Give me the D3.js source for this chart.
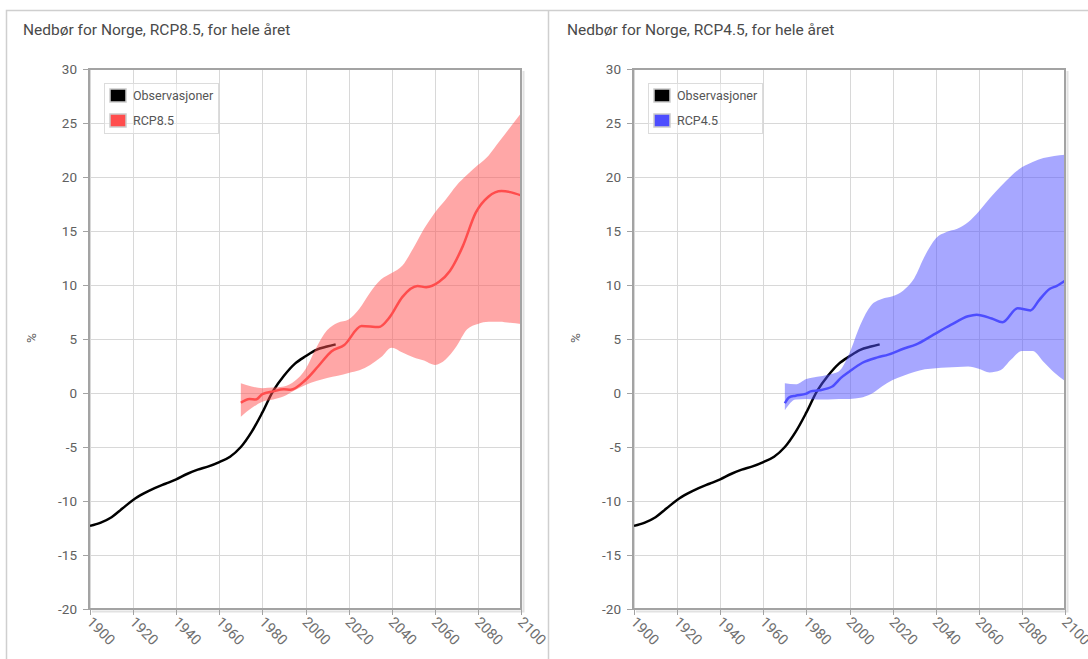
<!DOCTYPE html>
<html>
<head>
<meta charset="utf-8">
<script src="https://cdn.jsdelivr.net/npm/d3@7/dist/d3.min.js"></script>
<style>
  body { margin: 0; background: #fff; }
  svg { display: block; font-family: Roboto, "DejaVu Sans", sans-serif; }
  .title { font-size: 15.5px; fill: #4a4a4a; }
  .tickY { font-size: 13.5px; fill: #606060; }
  .tickX { font-size: 14.5px; fill: #707070; }
  .legendText { font-size: 12.5px; fill: #555; }
</style>
</head>
<body>
<script>
// observations (shared by both panels)
const obsYears  = [1900, 1905, 1910, 1915, 1920, 1925, 1930, 1935, 1940, 1945, 1950, 1955, 1960, 1965, 1970, 1975, 1980, 1985, 1990, 1995, 2000, 2005, 2010, 2014];
const obsValues = [-12.3, -12.0, -11.5, -10.7, -9.9, -9.3, -8.8, -8.4, -8.0, -7.5, -7.1, -6.8, -6.4, -5.9, -5.0, -3.6, -1.8, 0.2, 1.6, 2.7, 3.4, 4.0, 4.3, 4.5];

// band years for the spread of the models
const bandYears = [1970, 1975, 1980, 1985, 1990, 1995, 2000, 2005, 2010, 2015, 2020, 2025, 2030, 2035, 2040, 2045, 2050, 2055, 2060, 2065, 2070, 2075, 2080, 2085, 2090, 2095, 2100];

// RCP8.5
const rcp85Years  = [1970, 1974, 1977, 1980, 1985, 1990, 1993, 2000, 2006, 2012, 2018, 2026, 2034, 2039, 2045, 2052, 2056, 2062, 2067, 2073, 2079, 2085, 2091, 2095, 2100];
const rcp85Values = [-0.9, -0.55, -0.6, -0.1, 0.15, 0.35, 0.3, 1.2, 2.5, 3.85, 4.45, 6.2, 6.1, 7.0, 8.9, 9.9, 9.8, 10.3, 11.3, 13.6, 16.7, 18.2, 18.7, 18.6, 18.3];
const rcp85Upper  = [0.9, 0.6, 0.45, 0.5, 0.6, 1.1, 2.2, 4.2, 5.8, 6.5, 6.8, 7.8, 9.3, 10.5, 11.1, 11.8, 13.4, 15.2, 16.7, 17.9, 19.2, 20.2, 21.1, 22.0, 23.3, 24.6, 25.9];
const rcp85Lower  = [-2.2, -1.4, -0.8, -0.6, -0.3, 0.25, 0.75, 1.1, 1.4, 1.6, 1.85, 2.1, 2.6, 3.3, 4.2, 3.75, 3.3, 3.0, 2.6, 3.1, 4.3, 5.9, 6.4, 6.6, 6.6, 6.5, 6.4];

// RCP4.5
const rcp45Years  = [1970, 1972, 1975, 1980, 1982, 1986, 1992, 1996, 2000, 2006, 2013, 2018, 2025, 2031, 2039, 2047, 2055, 2059, 2066, 2071, 2078, 2084, 2088, 2093, 2096, 2100];
const rcp45Values = [-0.95, -0.4, -0.25, -0.05, 0.15, 0.25, 0.6, 1.4, 2.0, 2.8, 3.3, 3.55, 4.1, 4.5, 5.4, 6.3, 7.1, 7.25, 6.9, 6.55, 7.85, 7.65, 8.6, 9.65, 9.9, 10.4];
const rcp45Upper  = [0.9, 0.8, 1.3, 1.5, 1.7, 2.0, 3.7, 6.3, 8.1, 8.7, 8.95, 9.5, 10.6, 12.7, 14.3, 14.9, 15.2, 15.8, 16.8, 18.0, 19.1, 20.1, 20.9, 21.4, 21.75, 21.95, 22.05];
const rcp45Lower  = [-1.6, -0.6, -0.55, -0.6, -0.6, -0.55, -0.55, -0.45, -0.1, 0.6, 1.2, 1.6, 1.95, 2.2, 2.3, 2.35, 2.4, 2.45, 2.25, 1.9, 2.1, 3.1, 3.9, 3.9, 2.9, 1.9, 1.1];

const yTicks = [-20, -15, -10, -5, 0, 5, 10, 15, 20, 25, 30];
const xTicks = [1900, 1920, 1940, 1960, 1980, 2000, 2020, 2040, 2060, 2080, 2100];

const svg = d3.select("body").append("svg")
  .attr("width", 1088)
  .attr("height", 659);

// outer panel frame
svg.append("path")
  .attr("d", "M6.5,659V10.5H1088M548.5,10.5V659")
  .attr("fill", "none")
  .attr("stroke", "#cfcfcf")
  .attr("stroke-width", 1.5);

drawPanel(0, "Nedbør for Norge, RCP8.5, for hele året", "RCP8.5", "#ff4d4d", "#ff5050",
  rcp85Years, rcp85Values, rcp85Upper, rcp85Lower);
drawPanel(544, "Nedbør for Norge, RCP4.5, for hele året", "RCP4.5", "#4d4dff", "#5050ff",
  rcp45Years, rcp45Values, rcp45Upper, rcp45Lower);

function drawPanel(offset, title, name, lineColor, bandColor, years, values, upper, lower) {
  const g = svg.append("g").attr("transform", "translate(" + offset + ",0)");

  const x = d3.scaleLinear().domain([1900, 2100]).range([90, 521]);
  const y = d3.scaleLinear().domain([-20, 30]).range([609, 69]);

  g.append("text")
    .attr("class", "title")
    .attr("x", 23)
    .attr("y", 35)
    .text(title);

  // grid
  g.append("g").selectAll("line.gx")
    .data(xTicks)
    .enter().append("line")
    .attr("x1", d => Math.round(x(d)) + 0.5)
    .attr("x2", d => Math.round(x(d)) + 0.5)
    .attr("y1", y(30)).attr("y2", y(-20))
    .attr("stroke", "#d8d8d8");
  g.append("g").selectAll("line.gy")
    .data(yTicks)
    .enter().append("line")
    .attr("x1", x(1900)).attr("x2", x(2100))
    .attr("y1", d => Math.round(y(d)) + 0.5)
    .attr("y2", d => Math.round(y(d)) + 0.5)
    .attr("stroke", "#d8d8d8");

  // legend box (transparent, grid shows through)
  const leg = g.append("g");
  leg.append("rect")
    .attr("x", 104.5).attr("y", 83.5)
    .attr("width", 114).attr("height", 50)
    .attr("fill", "rgba(255,255,255,0.4)")
    .attr("stroke", "#dcdcdc");
  [["Observasjoner", "#000"], [name, lineColor]].forEach(function(item, i) {
    leg.append("rect")
      .attr("x", 110).attr("y", 89 + i * 25)
      .attr("width", 16).attr("height", 13)
      .attr("fill", item[1])
      .attr("stroke", "#cccccc")
      .attr("stroke-width", 1.5);
    leg.append("text")
      .attr("class", "legendText")
      .attr("x", 133).attr("y", 100 + i * 25)
      .text(item[0]);
  });

  // observations first, band is drawn over it
  const obs = obsYears.map((d, i) => ({ x: d, y: obsValues[i] }));
  g.append("path")
    .datum(obs)
    .attr("fill", "none")
    .attr("stroke", "#000")
    .attr("stroke-width", 2.5)
    .attr("d", d3.line().curve(d3.curveCatmullRom).x(d => x(d.x)).y(d => y(d.y)));

  const band = bandYears.map((d, i) => ({ x: d, hi: upper[i], lo: lower[i] }));
  g.append("path")
    .datum(band)
    .attr("fill", bandColor)
    .attr("fill-opacity", 0.5)
    .attr("d", d3.area().curve(d3.curveMonotoneX)
      .x(d => x(d.x)).y0(d => y(d.lo)).y1(d => y(d.hi)));

  const series = years.map((d, i) => ({ x: d, y: values[i] }));
  g.append("path")
    .datum(series)
    .attr("fill", "none")
    .attr("stroke", lineColor)
    .attr("stroke-width", 2.5)
    .attr("d", d3.line().curve(d3.curveMonotoneX).x(d => x(d.x)).y(d => y(d.y)));

  // plot frame with a little shadow
  g.append("path")
    .attr("d", "M" + (x(1900) + 2) + "," + (y(-20) + 2.5) + "H" + (x(2100) + 2.5) + "V" + (y(30) + 2))
    .attr("fill", "none")
    .attr("stroke", "#e2e2e2")
    .attr("stroke-width", 2);
  g.append("rect")
    .attr("x", x(1900) - 1).attr("y", y(30))
    .attr("width", x(2100) - x(1900) + 1)
    .attr("height", y(-20) - y(30))
    .attr("fill", "none")
    .attr("stroke", "#a3a3a3")
    .attr("stroke-width", 2);

  // y axis ticks + labels
  yTicks.forEach(function(t) {
    g.append("line")
      .attr("x1", 83).attr("x2", 89)
      .attr("y1", Math.round(y(t)) + 0.5).attr("y2", Math.round(y(t)) + 0.5)
      .attr("stroke", "#a3a3a3");
    g.append("text")
      .attr("class", "tickY")
      .attr("x", 77).attr("y", y(t) + 4.5)
      .attr("text-anchor", "end")
      .text(t);
  });

  // x axis ticks + rotated labels
  xTicks.forEach(function(t) {
    g.append("line")
      .attr("x1", Math.round(x(t)) + 0.5).attr("x2", Math.round(x(t)) + 0.5)
      .attr("y1", 609).attr("y2", 615)
      .attr("stroke", "#a3a3a3");
    g.append("text")
      .attr("class", "tickX")
      .attr("transform", "translate(" + (x(t) - 4) + ",623) rotate(45)")
      .text(t);
  });

  g.append("text")
    .attr("class", "tickY")
    .attr("transform", "translate(36,338) rotate(-90)")
    .attr("text-anchor", "middle")
    .attr("fill", "#777")
    .text("%");
}
</script>
</body>
</html>
